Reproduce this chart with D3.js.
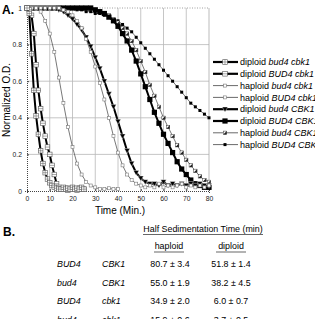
<!DOCTYPE html>
<html>
<head>
<meta charset="utf-8">
<script src="https://cdn.jsdelivr.net/npm/d3@7"></script>
<style>
  body { margin: 0; background: #fff; }
  svg { font-family: "Liberation Sans", Arial, sans-serif; }
  .grid line { stroke: #b8b8b8; stroke-width: 0.8; }
  .tick text { font-size: 6.8px; fill: #222; }
</style>
</head>
<body>
<script>
// sampling times (min)
var timesFast = d3.range(0, 26, 1),
    timesMid = d3.range(0, 42, 2),
    timesSlow = d3.range(0, 82, 2);

// normalized O.D.
var dipBud4Cbk1 = [1.0, 0.97, 0.75, 0.55, 0.41, 0.31, 0.22, 0.15, 0.1, 0.065, 0.045, 0.03, 0.02, 0.015, 0.01,
                   0.01, 0.02, 0.01, 0.015, 0.01, 0.02, 0.01, 0.015, 0.01, 0.02, 0.01];
var dipBUD4Cbk1 = [1.0, 0.99, 0.96, 0.86, 0.69, 0.55, 0.45, 0.37, 0.3, 0.24, 0.2, 0.14, 0.09, 0.04, 0.02,
                   0.01, 0.01, 0.015, 0.005, 0.01, 0.015, 0.01, 0.005, 0.015, 0.01, 0.01];
var hapBud4Cbk1 = [1.0, 1.0, 1.0, 0.98, 0.93, 0.86, 0.76, 0.62, 0.48, 0.35, 0.24, 0.15, 0.09, 0.05, 0.03,
                   0.02, 0.01, 0.01, 0.015, 0.01, 0.01];
var hapBUD4Cbk1 = [1.0, 1.0, 1.0, 1.0, 1.0, 1.0, 1.0, 1.0, 0.99, 0.98, 0.96, 0.93, 0.89, 0.83, 0.76, 0.68,
                   0.59, 0.5, 0.4, 0.3, 0.21, 0.14, 0.09, 0.06, 0.04, 0.03, 0.02, 0.03, 0.02, 0.04, 0.02,
                   0.03, 0.02, 0.03, 0.04, 0.02, 0.03, 0.02, 0.03, 0.02, 0.03];
var dipBud4CBK1 = [1.0, 1.0, 1.0, 1.0, 1.0, 1.0, 1.0, 0.99, 0.98, 0.96, 0.94, 0.91, 0.88, 0.84, 0.79, 0.73,
                   0.67, 0.6, 0.53, 0.46, 0.38, 0.3, 0.22, 0.15, 0.1, 0.07, 0.05, 0.04, 0.04, 0.03, 0.05,
                   0.03, 0.04, 0.03, 0.04, 0.03, 0.04, 0.03, 0.04, 0.03, 0.03];
var dipBUD4CBK1 = [1.0, 1.0, 1.0, 1.0, 1.0, 1.0, 1.0, 1.0, 1.0, 1.0, 1.0, 1.0, 1.0, 1.0, 1.0, 0.99,
                   0.98, 0.97, 0.95, 0.93, 0.9, 0.86, 0.82, 0.77, 0.71, 0.64, 0.57, 0.5, 0.43, 0.37, 0.31,
                   0.26, 0.21, 0.16, 0.12, 0.09, 0.06, 0.04, 0.03, 0.02, 0.02];
var hapBud4CBK1 = [1.0, 1.0, 1.0, 1.0, 1.0, 1.0, 1.0, 1.0, 1.0, 1.0, 1.0, 1.0, 1.0, 1.0, 1.0, 0.99,
                   0.98, 0.97, 0.96, 0.94, 0.92, 0.89, 0.86, 0.82, 0.77, 0.71, 0.65, 0.58, 0.52, 0.46, 0.4,
                   0.35, 0.3, 0.25, 0.21, 0.17, 0.14, 0.11, 0.08, 0.06, 0.05];
var hapBUD4CBK1 = [1.0, 1.0, 1.0, 1.0, 1.0, 1.0, 1.0, 1.0, 1.0, 1.0, 1.0, 0.99, 0.99, 0.98, 0.98, 0.97,
                   0.97, 0.96, 0.95, 0.94, 0.93, 0.91, 0.89, 0.87, 0.84, 0.81, 0.78, 0.75, 0.72, 0.69, 0.66,
                   0.63, 0.6, 0.57, 0.54, 0.51, 0.48, 0.46, 0.44, 0.42, 0.4];

// legend labels: ploidy + italic genotype
var ploidy = ["diploid", "diploid", "haploid", "haploid", "diploid", "diploid", "haploid", "haploid"];
var genotypes = ["bud4 cbk1", "BUD4 cbk1", "bud4 cbk1", "BUD4 cbk1", "bud4 CBK1", "BUD4 CBK1", "bud4 CBK1", "BUD4 CBK1"];

// table B
var gene1 = ["BUD4", "bud4", "BUD4", "bud4"];
var gene2 = ["CBK1", "CBK1", "cbk1", "cbk1"];
var haploidTimes = ["80.7 ± 3.4", "55.0 ± 1.9", "34.9 ± 2.0", "15.9 ± 0.6"];
var diploidTimes = ["51.8 ± 1.4", "38.2 ± 4.5", "6.0 ± 0.7", "3.7 ± 0.5"];

var xTicks = [0, 10, 20, 30, 40, 50, 60, 70, 80];
var yTicks = [0, 0.2, 0.4, 0.6, 0.8, 1];

var series = [
    {times: timesSlow, values: hapBUD4CBK1, thick: false, marker: "smallBlack"},
    {times: timesSlow, values: hapBud4CBK1, thick: false, marker: "hatch"},
    {times: timesSlow, values: dipBUD4CBK1, thick: true, marker: "bigSq"},
    {times: timesSlow, values: dipBud4CBK1, thick: true, marker: "tri"},
    {times: timesSlow, values: hapBUD4Cbk1, thick: false, marker: "smallSq"},
    {times: timesMid, values: hapBud4Cbk1, thick: false, marker: "smallSq"},
    {times: timesFast, values: dipBUD4Cbk1, thick: true, marker: "sqLine"},
    {times: timesFast, values: dipBud4Cbk1, thick: true, marker: "sqCross"}
];
// legend order matches ploidy/genotypes arrays
var legendMarkers = ["sqCross", "sqLine", "smallSq", "smallSq", "tri", "bigSq", "hatch", "smallBlack"];
var legendThick = [true, true, false, false, true, true, false, false];

var svg = d3.select("body").append("svg")
    .attr("width", 315)
    .attr("height", 319);

var x = d3.scaleLinear().domain([0, 80]).range([27, 209]);
var y = d3.scaleLinear().domain([0, 1]).range([191, 8]);

// grid
var grid = svg.append("g").attr("class", "grid");
grid.selectAll(".gx").data(xTicks.slice(1, -1)).enter().append("line")
    .attr("x1", function(d) { return x(d); }).attr("x2", function(d) { return x(d); })
    .attr("y1", y(0)).attr("y2", y(1));
grid.selectAll(".gy").data(yTicks.slice(1, -1)).enter().append("line")
    .attr("x1", x(0)).attr("x2", x(80))
    .attr("y1", function(d) { return y(d); }).attr("y2", function(d) { return y(d); });

// frame
svg.append("line").attr("x1", x(80)).attr("x2", x(80)).attr("y1", y(0)).attr("y2", y(1))
    .attr("stroke", "#aaa").attr("stroke-width", 0.8);
svg.append("line").attr("x1", x(0)).attr("x2", x(80)).attr("y1", y(1)).attr("y2", y(1))
    .attr("stroke", "#888").attr("stroke-width", 0.8).attr("stroke-dasharray", "1,1.5");

// axes
var xAxis = svg.append("g")
    .attr("transform", "translate(0," + y(0) + ")")
    .call(d3.axisBottom(x).tickValues(xTicks).tickSize(2).tickPadding(3).tickFormat(d3.format("d")));
xAxis.select(".domain").attr("stroke", "#444").attr("stroke-dasharray", "1,1");
xAxis.selectAll(".tick line").attr("stroke", "#444").attr("y1", -2).attr("y2", 0);

var yAxis = svg.append("g")
    .attr("transform", "translate(" + x(0) + ",0)")
    .call(d3.axisLeft(y).tickValues(yTicks).tickSize(2).tickPadding(3)
        .tickFormat(function(d) { return d === 0 ? "0" : d === 1 ? "1" : d3.format(".1f")(d); }));
yAxis.select(".domain").attr("stroke", "#444").attr("stroke-dasharray", "1,1");
yAxis.selectAll(".tick line").attr("stroke", "#444").attr("x1", 0).attr("x2", 2);

svg.append("text").attr("x", 120).attr("y", 214)
    .attr("text-anchor", "middle").attr("font-size", 10).text("Time (Min.)");
svg.append("text")
    .attr("transform", "translate(10,100) rotate(-90)")
    .attr("text-anchor", "middle").attr("font-size", 10).text("Normalized O.D.");
svg.append("text").attr("x", 2).attr("y", 14)
    .attr("font-size", 12).attr("font-weight", "bold").text("A.");

// marker drawing
function drawMarker(g, type, cx, cy) {
    if (type === "bigSq") {
        g.append("rect").attr("x", cx - 2.6).attr("y", cy - 2.6).attr("width", 5.2).attr("height", 5.2)
            .attr("fill", "#000");
    } else if (type === "smallBlack") {
        g.append("rect").attr("x", cx - 1.5).attr("y", cy - 1.5).attr("width", 3).attr("height", 3)
            .attr("fill", "#000");
    } else if (type === "tri") {
        g.append("path").attr("d", "M" + (cx - 2.8) + "," + (cy - 2.2) + "L" + (cx + 2.8) + "," + (cy - 2.2) + "L" + cx + "," + (cy + 2.8) + "Z")
            .attr("fill", "#000").attr("stroke", "#fff").attr("stroke-width", 0.4);
    } else if (type === "hatch") {
        g.append("rect").attr("x", cx - 1.7).attr("y", cy - 1.7).attr("width", 3.4).attr("height", 3.4)
            .attr("fill", "#fff").attr("stroke", "#333").attr("stroke-width", 0.5);
        g.append("path").attr("d", "M" + (cx - 1.7) + "," + (cy + 1.7) + "L" + (cx + 1.7) + "," + (cy - 1.7) + "L" + (cx + 1.7) + "," + (cy + 1.7) + "Z")
            .attr("fill", "#222");
    } else if (type === "smallSq") {
        g.append("rect").attr("x", cx - 1.5).attr("y", cy - 1.5).attr("width", 3).attr("height", 3)
            .attr("fill", "#fff").attr("stroke", "#777").attr("stroke-width", 0.6);
    } else {
        // sqCross / sqLine: open square
        g.append("rect").attr("x", cx - 2.3).attr("y", cy - 2.3).attr("width", 4.6).attr("height", 4.6)
            .attr("fill", "#fff").attr("stroke", "#555").attr("stroke-width", 0.6);
        g.append("line").attr("x1", cx - 2.3).attr("x2", cx + 2.3).attr("y1", cy).attr("y2", cy)
            .attr("stroke", "#555").attr("stroke-width", 0.5);
        if (type === "sqCross") {
            g.append("line").attr("x1", cx).attr("x2", cx).attr("y1", cy - 2.3).attr("y2", cy + 2.3)
                .attr("stroke", "#555").attr("stroke-width", 0.5);
        }
    }
}

var line = d3.line()
    .x(function(d) { return x(d[0]); })
    .y(function(d) { return y(d[1]); });

series.forEach(function(s) {
    var pts = s.times.map(function(t, i) { return [t, s.values[i]]; });
    var g = svg.append("g");
    g.append("path").datum(pts)
        .attr("d", line)
        .attr("fill", "none")
        .attr("stroke", s.thick ? "#000" : "#555")
        .attr("stroke-width", s.thick ? 2 : 0.8);
    pts.forEach(function(p) { drawMarker(g, s.marker, x(p[0]), y(p[1])); });
});

// legend
var legend = svg.append("g");
ploidy.forEach(function(p, i) {
    var ly = 62 + i * 11.8;
    legend.append("line").attr("x1", 213).attr("x2", 238).attr("y1", ly).attr("y2", ly)
        .attr("stroke", legendThick[i] ? "#000" : "#444")
        .attr("stroke-width", legendThick[i] ? 2.2 : 0.8);
    drawMarker(legend, legendMarkers[i], 225, ly);
    var t = legend.append("text").attr("x", 240).attr("y", ly + 3.2).attr("font-size", 9);
    t.append("tspan").text(p + " ");
    t.append("tspan").attr("font-style", "italic").text(genotypes[i]);
});

// table B
svg.append("text").attr("x", 3).attr("y", 236)
    .attr("font-size", 12).attr("font-weight", "bold").text("B.");

var tb = svg.append("g").attr("font-size", 8.9);
tb.append("text").attr("x", 203).attr("y", 232).attr("text-anchor", "middle")
    .text("Half Sedimentation Time (min)");
tb.append("line").attr("x1", 143).attr("x2", 263).attr("y1", 234.5).attr("y2", 234.5)
    .attr("stroke", "#000").attr("stroke-width", 0.6);
[["haploid", 169], ["diploid", 231]].forEach(function(h) {
    tb.append("text").attr("x", h[1]).attr("y", 249).attr("text-anchor", "middle").text(h[0]);
    tb.append("line").attr("x1", h[1] - 15).attr("x2", h[1] + 15).attr("y1", 252).attr("y2", 252)
        .attr("stroke", "#000").attr("stroke-width", 0.6);
});
gene1.forEach(function(g1, i) {
    var ry = 267 + i * 18.7;
    tb.append("text").attr("x", 57).attr("y", ry).attr("font-style", "italic").text(g1);
    tb.append("text").attr("x", 102).attr("y", ry).attr("font-style", "italic").text(gene2[i]);
    tb.append("text").attr("x", 170).attr("y", ry).attr("text-anchor", "middle").text(haploidTimes[i]);
    tb.append("text").attr("x", 231).attr("y", ry).attr("text-anchor", "middle").text(diploidTimes[i]);
});
</script>
</body>
</html>
